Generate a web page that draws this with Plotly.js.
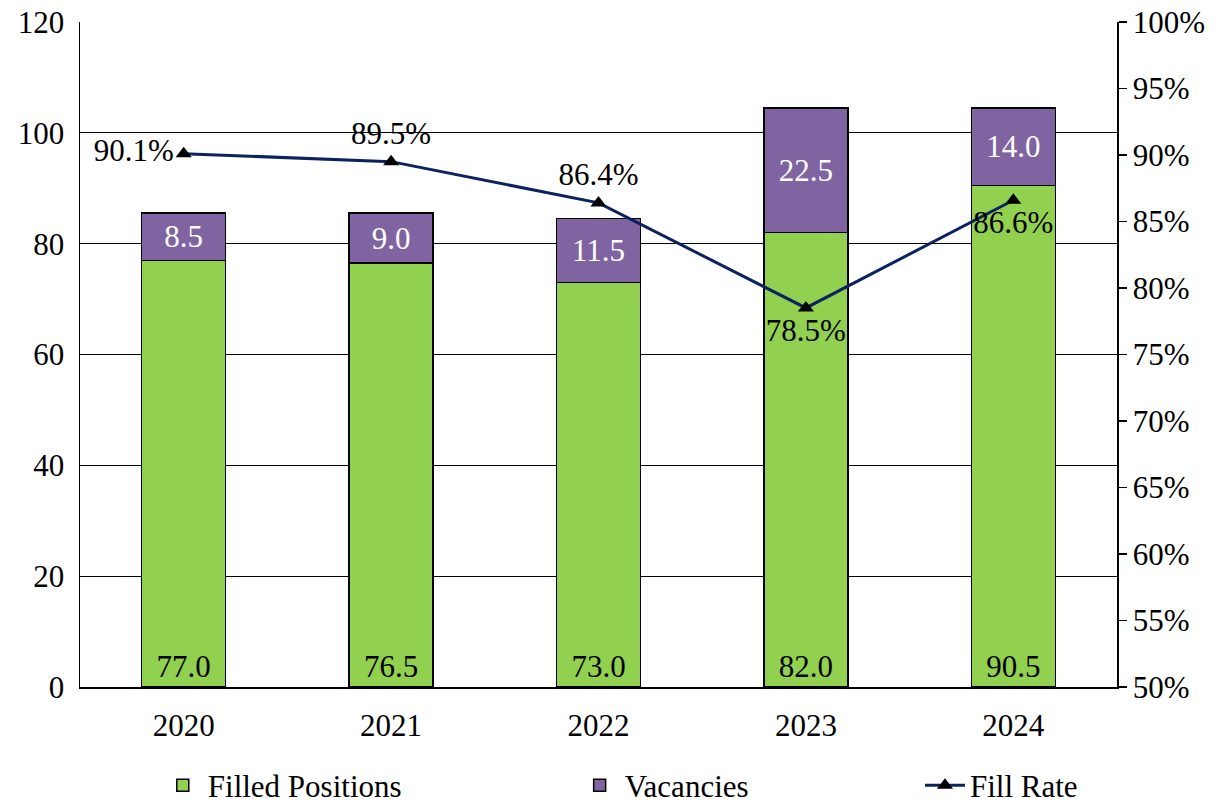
<!DOCTYPE html>
<html><head><meta charset="utf-8">
<script src="https://cdn.plot.ly/plotly-3.0.1.min.js"></script>
<style>body{margin:0;background:#fff}#chart{width:1225px;height:810px}</style>
</head><body><div id="chart"></div>
<script>
const years = ['2020','2021','2022','2023','2024'];
const filled = [77.0, 76.5, 73.0, 82.0, 90.5];
const vacancies = [8.5, 9.0, 11.5, 22.5, 14.0];
const fillRate = [0.901, 0.895, 0.864, 0.785, 0.866];
const rateLabelPos = ['middle left','top center','top center','bottom center','bottom center'];

const F = 'Liberation Serif';
const fs = 31;

const traces = [
  {type:'bar', name:'Filled Positions', x:years, y:filled,
   marker:{color:'#92d050', line:{color:'#000', width:1.5}},
   text:filled.map(v=>v.toFixed(1)), textposition:'inside', insidetextanchor:'start',
   textangle:0, constraintext:'none', textfont:{family:F,size:fs,color:'#000'},
   hoverinfo:'skip', legend:'legend'},
  {type:'bar', name:'Vacancies', x:years, y:vacancies,
   marker:{color:'#8064a2', line:{color:'#000', width:1.5}},
   text:vacancies.map(v=>v.toFixed(1)), textposition:'inside', insidetextanchor:'middle',
   textangle:0, constraintext:'none', textfont:{family:F,size:fs,color:'#fff'},
   hoverinfo:'skip', legend:'legend2'},
  {type:'scatter', mode:'lines+markers+text', name:'Fill Rate', x:years, y:fillRate, yaxis:'y2',
   line:{color:'#0a2260', width:3}, marker:{symbol:'triangle-up', size:14, color:'#000'},
   text:fillRate.map(v=>(v*100).toFixed(1)+'%'), textposition:rateLabelPos,
   textfont:{family:F,size:fs,color:'#000'}, cliponaxis:false, legend:'legend3'}
];

const legBase = {orientation:'h', yref:'container', yanchor:'middle', y:0.03, xanchor:'left',
  font:{family:F,size:fs,color:'#000'}, bgcolor:'rgba(0,0,0,0)', itemwidth:40};

const layout = {
  width:1225, height:810,
  margin:{l:80, r:108, t:22, b:123, autoexpand:false},
  paper_bgcolor:'#fff', plot_bgcolor:'#fff',
  barmode:'stack', bargap:0.595,
  font:{family:F, size:fs, color:'#000'},
  showlegend:true,
  legend:Object.assign({}, legBase, {x:0.075}),
  legend2:Object.assign({}, legBase, {x:0.477}),
  legend3:Object.assign({}, legBase, {x:0.81}),
  xaxis:{showline:true, linecolor:'#000', linewidth:1.5, ticks:'', tickfont:{family:F,size:fs}, ticklabelstandoff:10},
  yaxis:{range:[0,120], dtick:20, showline:true, linecolor:'#000', linewidth:1.5,
         showgrid:true, gridcolor:'#000', gridwidth:1.2, zeroline:false, ticks:'',
         tickfont:{family:F,size:fs}, ticklabelstandoff:8},
  yaxis2:{overlaying:'y', side:'right', range:[0.5,1.0], dtick:0.05, tickformat:'.0%',
          showline:true, linecolor:'#000', linewidth:1.5, showgrid:false, zeroline:false,
          ticks:'outside', ticklen:8, tickcolor:'#000', tickwidth:1.5,
          tickfont:{family:F,size:fs}}
};

Plotly.newPlot('chart', traces, layout, {displayModeBar:false, staticPlot:true});
</script></body></html>
